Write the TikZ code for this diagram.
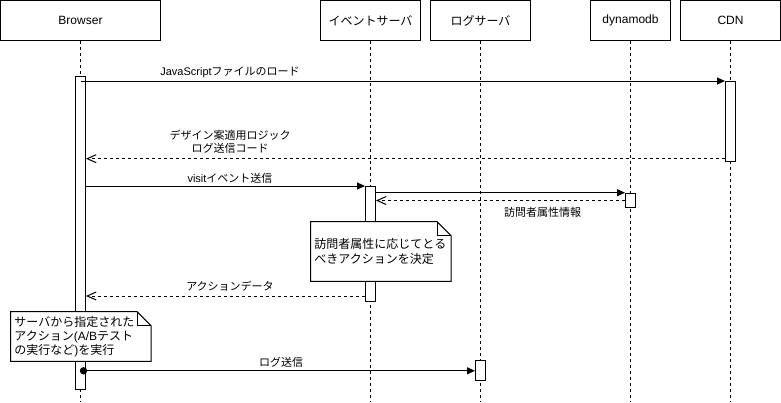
\documentclass[tikz,border=0pt]{standalone}
\usepackage{fontspec}
\setmainfont{Liberation Sans}
\newfontfamily\jp{Noto Sans CJK JP}
\usetikzlibrary{arrows.meta}

\begin{document}
\begin{tikzpicture}[
        x=1pt, y=-1pt,
        actor/.style={
          draw,
          line width=1pt,
          minimum height=40pt,
          inner sep=0pt,
          font=\fontsize{12}{14}\selectfont
        },
        act/.style={draw, fill=white, line width=1pt, minimum width=10pt,
          inner sep=0pt, anchor=north},
        lifeline/.style={line width=1pt, dash pattern=on 3pt off 3pt},
        msg/.style={line width=1pt, -{Triangle[length=8pt,width=7pt]}},
        reply/.style={line width=1pt, dash pattern=on 3pt off 3pt,
          -{Straight Barb[length=9pt,width=8pt]}},
        lbl/.style={font=\fontsize{11}{13}\selectfont, align=center, inner sep=0pt},
        note/.style={anchor=north west, fill=white, text width=133pt,
          inner xsep=3.5pt, inner ysep=0pt, align=left,
          font=\fontsize{12}{14.3}\selectfont\jp},
        fold/.style={line width=1pt, line join=miter}
      ]
      \useasboundingbox (0,0) rectangle (781,402);
      \coordinate (bottom) at (0,402);

      \node[actor, minimum width=160pt] (browser) at (80.5,20.5) {Browser};
      \node[actor, minimum width=100pt] (event) at (370.5,20.5) {{\jp イベントサーバ}};
      \node[actor, minimum width=100pt] (log) at (480.5,20.5) {{\jp ログサーバ}};
      \node[actor, minimum width=80pt] (dynamo) at (630.5,20.5) {dynamodb};
      \node[actor, minimum width=100pt] (cdn) at (730.5,20.5) {CDN};

      \foreach \n in {browser, event, log, dynamo, cdn}
        \draw[lifeline] (\n.south) -- (\n |- bottom);

      \node[act, minimum height=313pt] (browseract) at (80.5,76) {};
      \node[act, minimum height=80pt] (cdnact) at (730.5,81) {};
      \node[act, minimum height=115pt] (eventact) at (370.5,186) {};
      \node[act, minimum height=14.6pt] (dynamoact) at (630.5,192.7) {};
      \node[act, minimum height=20pt] (logact) at (480.5,360.3) {};

      \coordinate (coderet) at ([yshift=3.3pt]cdnact.south west);
      \coordinate (actret) at ([yshift=6pt]eventact.south west);
      \coordinate (logdot) at ([xshift=-2.5pt]browseract.east |- logact.west);

      \draw[msg] (browseract.center |- cdnact.north) -- (cdnact.north west);
      \draw[reply] (coderet) -- (browseract.east |- coderet);
      \draw[msg] (browseract.east |- eventact.north) -- (eventact.north west);
      \draw[msg] (eventact.east |- dynamoact.north) -- (dynamoact.north west);
      \draw[reply] (dynamoact.west) -- (eventact.east |- dynamoact.west);
      \draw[reply] (actret) -- (browseract.east |- actret);
      \draw[msg] (logdot) -- (logact.west);
      \fill (logdot) circle (3.7pt);

      \node[lbl] (loadlbl) at (230,72) {JavaScript{\jp ファイルのロード}};
      \node[lbl] (codelbl) at (230,141.5)
        {{\jp デザイン案適用ロジック}\\{\jp ログ送信コード}};
      \node[lbl] (visitlbl) at (230,178) {visit{\jp イベント送信}};
      \node[lbl] (attrlbl) at (542.5,212) {{\jp 訪問者属性情報}};
      \node[lbl] (actlbl) at (230,286) {{\jp アクションデータ}};
      \node[lbl] (loglbl) at (281,362) {{\jp ログ送信}};

      \node[note, minimum height=59.3pt] (decide) at (310.7,221.7)
        {訪問者属性に応じてとる\\べきアクションを決定};
      \draw[fold] (decide.north west) -- ([xshift=-14pt]decide.north east)
        -- ([yshift=-14pt]decide.north east) -- (decide.south east)
        -- (decide.south west) -- cycle;
      \draw[fold] ([xshift=-14pt]decide.north east)
        -- ([xshift=-14pt,yshift=-14pt]decide.north east)
        -- ([yshift=-14pt]decide.north east);

      \node[note, minimum height=49.3pt] (run) at (10.7,311.7)
        {サーバから指定された\\アクション{\rmfamily(A/B}テスト\\の実行など{\rmfamily)}を実行};
      \draw[fold] (run.north west) -- ([xshift=-14pt]run.north east)
        -- ([yshift=-14pt]run.north east) -- (run.south east)
        -- (run.south west) -- cycle;
      \draw[fold] ([xshift=-14pt]run.north east)
        -- ([xshift=-14pt,yshift=-14pt]run.north east)
        -- ([yshift=-14pt]run.north east);
    \end{tikzpicture}
\end{document}
